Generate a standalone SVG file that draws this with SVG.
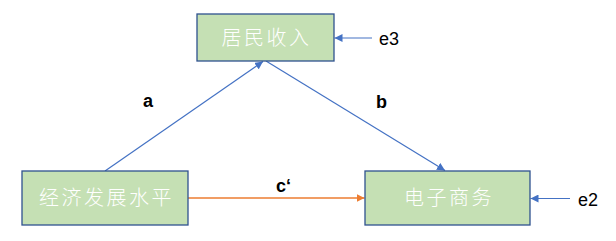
<svg xmlns="http://www.w3.org/2000/svg" width="616" height="241" viewBox="0 0 616 241">
<defs>
<style>
.box{fill:#C5E0B4;stroke:#2F528F;stroke-width:1.3}
.cn{font-family:"Noto Sans CJK SC","Noto Sans CJK JP",sans-serif;font-size:20px;fill:#ffffff;text-anchor:middle;letter-spacing:2.5px;font-weight:300}
.lbl{font-family:"Liberation Sans",Arial,sans-serif;font-size:18px;font-weight:bold;fill:#000}
.e{font-family:"Liberation Sans",Arial,sans-serif;font-size:18px;fill:#000}
.blue{stroke:#4472C4;stroke-width:1.2;fill:none}
.orange{stroke:#ED7D31;stroke-width:1.5;fill:none}
</style>
<marker id="ab" viewBox="0 0 10 10" refX="10" refY="5" markerWidth="8" markerHeight="8" markerUnits="userSpaceOnUse" orient="auto">
<path d="M0,0 L10,5 L0,10 z" fill="#4472C4"/>
</marker>
<marker id="ao" viewBox="0 0 10 10" refX="10" refY="5" markerWidth="8" markerHeight="8" markerUnits="userSpaceOnUse" orient="auto">
<path d="M0,0 L10,5 L0,10 z" fill="#ED7D31"/>
</marker>
</defs>
<rect width="616" height="241" fill="#ffffff"/>
<g id="connectors">
<line class="blue" x1="105" y1="171" x2="263" y2="61.5" marker-end="url(#ab)"/>
<line class="blue" x1="266" y1="61" x2="445" y2="170.5" marker-end="url(#ab)"/>
<line class="orange" x1="188" y1="198" x2="364.5" y2="198" marker-end="url(#ao)"/>
<line class="blue" x1="372" y1="38" x2="334.5" y2="38" marker-end="url(#ab)"/>
<line class="blue" x1="570" y1="198.5" x2="530.5" y2="198.5" marker-end="url(#ab)"/>
<text class="lbl" x="143" y="107">a</text>
<text class="lbl" x="376" y="108">b</text>
<text class="lbl" x="276" y="192">c‘</text>
</g>
<g id="node-income">
<rect class="box" x="197" y="14" width="137" height="47"/>
<text class="cn" x="266.5" y="45">居民收入</text>
</g>
<g id="node-economy">
<rect class="box" x="22" y="171" width="166" height="54"/>
<text class="cn" x="106.5" y="205">经济发展水平</text>
</g>
<g id="node-ecommerce">
<rect class="box" x="365" y="171" width="165" height="54"/>
<text class="cn" x="449" y="205">电子商务</text>
</g>
<g id="node-e3">
<text class="e" x="379" y="45">e3</text>
</g>
<g id="node-e2">
<text class="e" x="578" y="206">e2</text>
</g>
</svg>
